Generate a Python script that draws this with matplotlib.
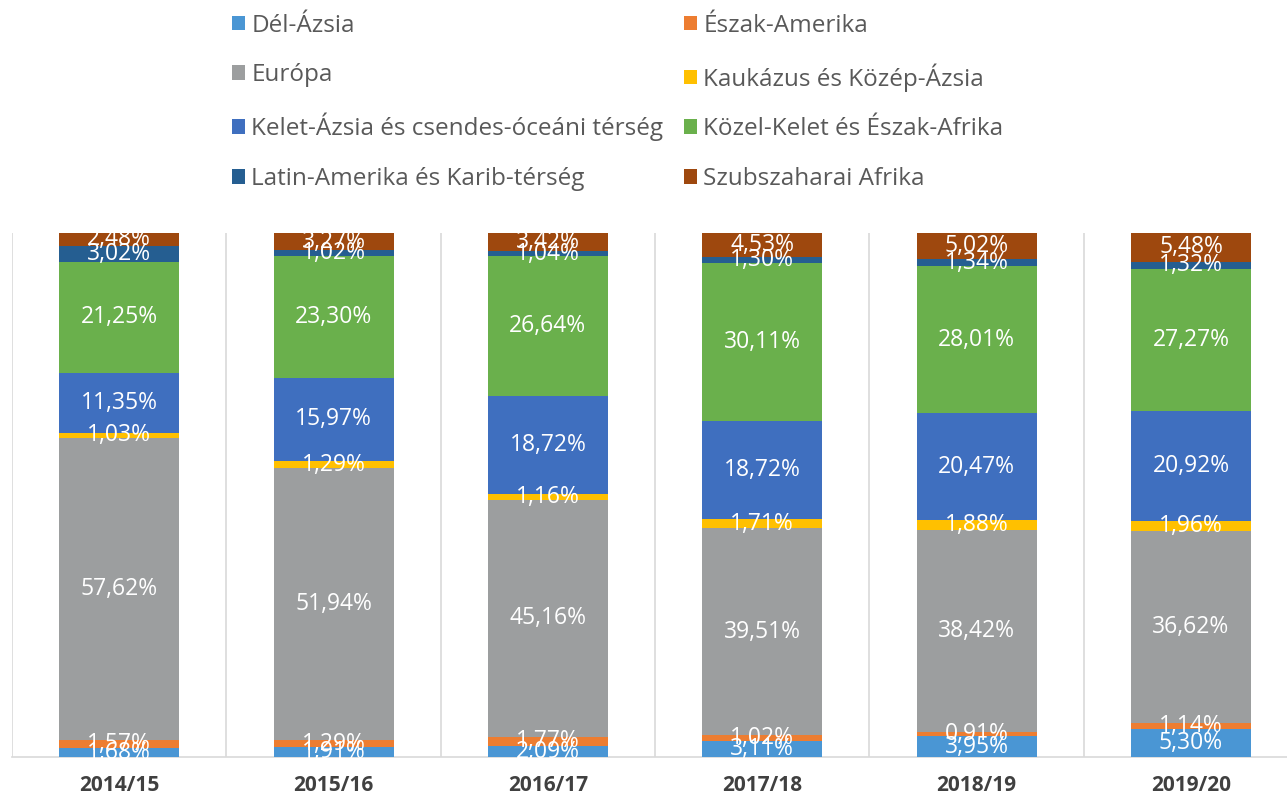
import matplotlib
matplotlib.use("Agg")
import matplotlib.pyplot as plt
import numpy as np
from matplotlib.patches import Patch

years = ["2014/15", "2015/16", "2016/17", "2017/18", "2018/19", "2019/20"]
series_names = ["Dél-Ázsia", "Észak-Amerika", "Európa", "Kaukázus és Közép-Ázsia",
                "Kelet-Ázsia és csendes-óceáni térség", "Közel-Kelet és Észak-Afrika",
                "Latin-Amerika és Karib-térség", "Szubszaharai Afrika"]
del_azsia = [1.68, 1.91, 2.09, 3.11, 3.95, 5.30]
eszak_amerika = [1.57, 1.29, 1.77, 1.02, 0.91, 1.14]
europa = [57.62, 51.94, 45.16, 39.51, 38.42, 36.62]
kaukazus = [1.03, 1.29, 1.16, 1.71, 1.88, 1.96]
kelet_azsia = [11.35, 15.97, 18.72, 18.72, 20.47, 20.92]
kozel_kelet = [21.25, 23.30, 26.64, 30.11, 28.01, 27.27]
latin_amerika = [3.02, 1.02, 1.04, 1.30, 1.34, 1.32]
szubszaharai = [2.48, 3.27, 3.42, 4.53, 5.02, 5.48]

series = [del_azsia, eszak_amerika, europa, kaukazus, kelet_azsia, kozel_kelet,
          latin_amerika, szubszaharai]
colors = ["#4a96d4", "#ed7d31", "#9c9e9f", "#ffc000", "#3f6fbf", "#6ab04c",
          "#255e91", "#9e480e"]

plt.rcParams['font.family'] = ['Open Sans', 'DejaVu Sans']

fig = plt.figure(figsize=(12.87, 8.0), dpi=100)
ax = fig.add_axes([12/1287, 1-757/800, 1-12/1287, (757-233)/800])

x = np.arange(len(years))
bottom = np.zeros(len(years))
for vals, col in zip(series, colors):
    v = np.array(vals)
    ax.bar(x, v, bottom=bottom, width=0.56, color=col, zorder=3)
    for xi, b, h in zip(x, bottom, v):
        ax.text(xi, b + h/2, f"{h:.2f}%".replace(".", ","), ha='center', va='center',
                color='white', fontsize=16.5, zorder=4)
    bottom += v

ax.set_xticks(x)
ax.set_xticklabels(years, fontsize=15, fontweight='bold', color='#404040')
ax.set_xticks(np.arange(-0.5, 6, 1), minor=True)
ax.set_xlim(-0.5, 5.448)
ax.set_ylim(0, 100)
ax.grid(True, which='minor', axis='x', color='#d9d9d9', linewidth=1.2, zorder=0)
ax.tick_params(axis='x', which='both', length=0, pad=13)
ax.set_yticks([])
for s in ['top', 'right', 'left']:
    ax.spines[s].set_visible(False)
ax.spines['bottom'].set_color('#d9d9d9')
ax.spines['bottom'].set_linewidth(1.2)

handles = [Patch(facecolor=c, label=n) for c, n in zip(colors, series_names)]
order = [0, 2, 4, 6, 1, 3, 5, 7]
fig.legend(handles=[handles[i] for i in order], loc='upper left',
           bbox_to_anchor=(222/1287, 1-4/800),
           ncol=2, frameon=False, fontsize=17.5, labelcolor='#595959',
           handlelength=0.55, handleheight=0.55, handletextpad=0.25,
           columnspacing=0.85, labelspacing=1.05, borderaxespad=0)

fig.savefig("out.png", dpi=100)
